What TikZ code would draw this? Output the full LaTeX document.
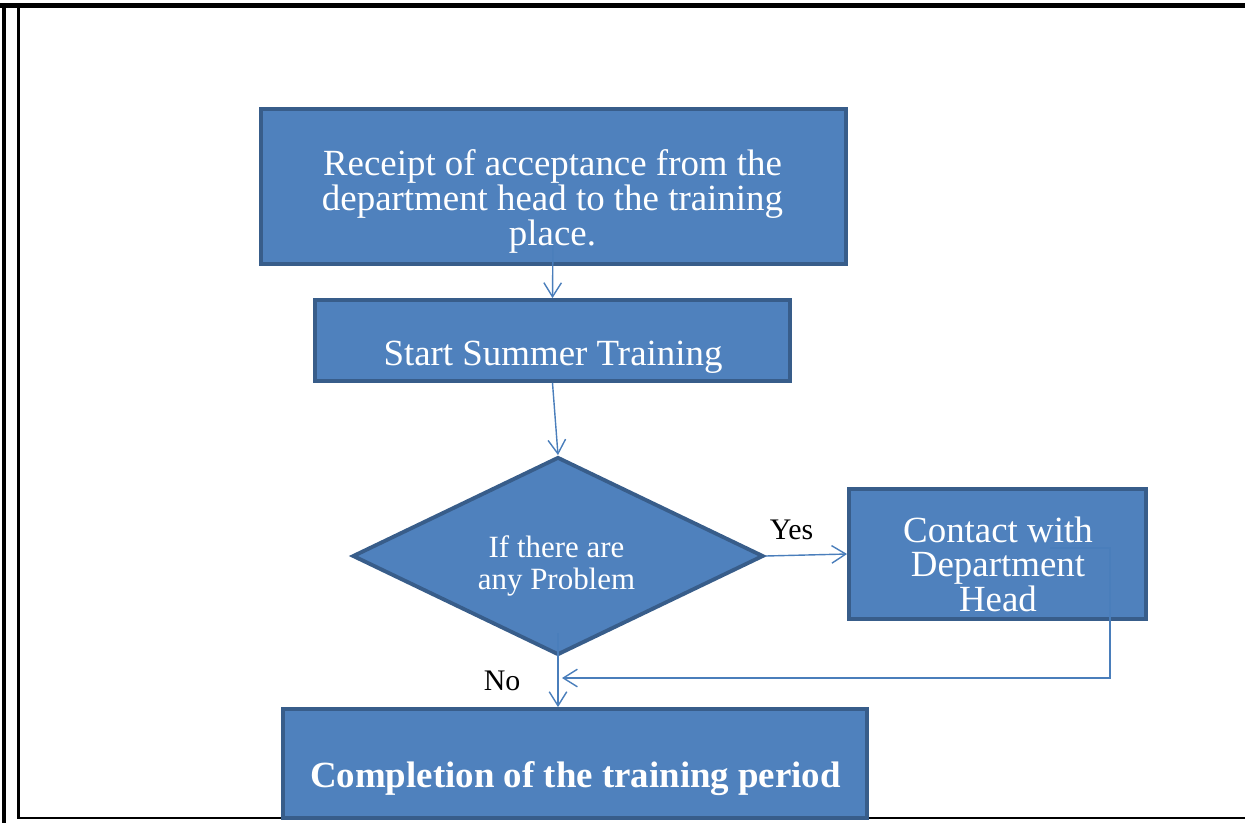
\documentclass[tikz,border=0pt]{standalone}
\usepackage{fontspec}
\setmainfont{Liberation Serif}
\usetikzlibrary{shapes.geometric,arrows.meta}
\definecolor{boxfill}{HTML}{4F81BD}
\definecolor{boxline}{HTML}{385D8A}
\definecolor{linkcol}{HTML}{4A7EBB}

\begin{document}
\begin{tikzpicture}[x={(0.02cm,0cm)}, y={(0cm,-0.02cm)},
    box/.style={draw=boxline, fill=boxfill, line width=2.2pt, inner sep=0pt},
    boxtext/.style={text=white, align=center, inner sep=0pt, font=\fontsize{21}{19.84}\selectfont},
    conn/.style={draw=linkcol, line width=0.8pt, -{Straight Barb[length=8pt,width=10pt]}},
    lbl/.style={inner sep=0pt, anchor=base, font=\fontsize{17}{20}\selectfont}]
  \useasboundingbox (0,0) rectangle (1245,823);
  % frame
  \draw[line width=2.8pt] (0,5.5) -- (1245,5.5);
  \draw[line width=2.6pt] (4,3) -- (4,823);
  \draw[line width=1.5pt] (18.7,8) -- (18.7,818) -- (1245,818);
  % boxes
  \node[box, minimum width=11.7cm, minimum height=3.1cm] (b1) at (553.5,186.5) {};
  \node[box, minimum width=9.5cm, minimum height=1.62cm] (b2) at (552.5,340.5) {};
  \node[box, diamond, minimum width=8.22cm, minimum height=3.96cm] (dia) at (558,556) {};
  \node[box, minimum width=5.94cm, minimum height=2.6cm] (ct) at (997.5,554) {};
  \node[box, minimum width=11.68cm, minimum height=2.18cm] (done) at (575,763.5) {};
  % links
  \coordinate (s1) at (553,240);
  \coordinate (s4) at (558,633);
  \coordinate (s5) at (1050,548);
  \coordinate (m) at (562,678);
  \draw[conn] (s1) -- (b2.north);
  \draw[conn] (b2.south) -- (dia.north);
  \draw[conn] (dia.east) -- (ct.west);
  \draw[conn] (s4) -- (s4 |- done.north);
  \draw[conn] (s5) -- ++(60,0) |- (m);
  % texts
  \node[boxtext] (t1) at (552.5,201.5) {Receipt of acceptance from the\\department head to the training\\place.};
  \node[boxtext, anchor=base] (t2) at (553,365) {Start Summer Training};
  \node[boxtext, font=\fontsize{17.6}{18.1}\selectfont] (t3) at (556.5,566) {If there are\\any Problem};
  \node[boxtext] (t4) at (998,564.3) {Contact with\\Department\\Head};
  \node[boxtext, anchor=base, font=\bfseries\fontsize{21}{19.84}\selectfont] (t5) at (575.5,787) {Completion of the training period};
  \node[lbl] (yes) at (791.5,539) {Yes};
  \node[lbl] (no) at (502,690) {No};
\end{tikzpicture}
\end{document}
